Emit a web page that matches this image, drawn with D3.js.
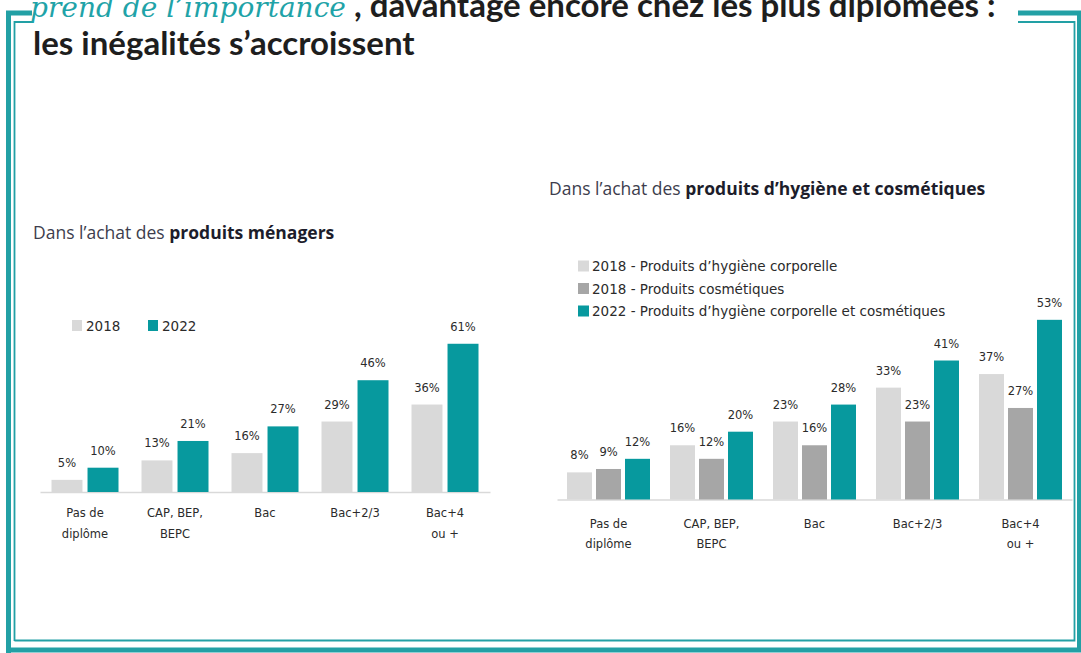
<!DOCTYPE html>
<html>
<head>
<meta charset="utf-8">
<script src="https://cdn.jsdelivr.net/npm/d3@7"></script>
<style>
  body { margin: 0; background: #fff; }
  svg { display: block; }
  .lbl { font-family: 'DejaVu Sans', sans-serif; font-size: 11.5px; fill: #2b2b2b; }
  .leg { font-family: 'DejaVu Sans', sans-serif; font-size: 13.5px; fill: #2b2b2b; }
  .sub { font-family: 'Open Sans', sans-serif; font-size: 17.5px; fill: #3d3d4d; }
  .sub .b { font-weight: 700; fill: #1d1d2b; }
  .title { font-family: Lato, sans-serif; font-weight: 700; font-size: 33px; fill: #1e1e1e; }
</style>
</head>
<body>
<div id="chart"></div>
<script>
// categories (line breaks as in the picture)
const categories = ['Pas de\ndiplôme', 'CAP, BEP,\nBEPC', 'Bac', 'Bac+2/3', 'Bac+4\nou +']

// produits ménagers
const menagers2018 = [5, 13, 16, 29, 36]
const menagers2022 = [10, 21, 27, 46, 61]

// hygiène et cosmétiques
const hygiene2018 = [8, 16, 23, 33, 37]
const cosmetiques2018 = [9, 12, 16, 23, 27]
const hygieneCosm2022 = [12, 20, 28, 41, 53]

const leftLegend = ['2018', '2022']
const rightLegend = [
  '2018 - Produits d\u2019hygiène corporelle',
  '2018 - Produits cosmétiques',
  '2022 - Produits d\u2019hygiène corporelle et cosmétiques'
]

const LIGHT = '#d9d9d9'
const MID = '#a6a6a6'
const TEAL = '#07999e'
const FRAME = '#22a0a5'

const W = 1081
const H = 653

var svg = d3.select('#chart').append('svg')
  .attr('width', W)
  .attr('height', H)

// frame: thick outer line + thin inner line, broken at the top by the title
const frame = svg.append('g').attr('fill', 'none')
frame.append('path')
  .attr('d', 'M8.5,653 V13 H32 M1018,13 H1079.5 V650 H8.5')
  .attr('stroke', FRAME).attr('stroke-width', 5)
frame.append('path')
  .attr('d', 'M14.5,641 V22 H33 M1018,22 H1074.5 V640.5 H14.5')
  .attr('stroke', FRAME).attr('stroke-width', 1.8)

// title (top line is cut off by the picture's edge)
const t1 = svg.append('text').attr('class', 'title').attr('x', 30).attr('y', 17)
t1.append('tspan')
  .attr('fill', '#1fa3a8')
  .attr('font-style', 'italic')
  .attr('font-weight', 400)
  .attr('font-size', 28)
  .attr('font-family', "'DejaVu Serif', serif")
  .text('prend de l\u2019importance')
t1.append('tspan').text(' , davantage encore chez les plus diplômées :')

svg.append('text').attr('class', 'title')
  .attr('x', 33).attr('y', 55)
  .text('les inégalités s\u2019accroissent')

// grouped bar chart helper
const drawChart = (opt) => {
  const g = svg.append('g')

  var x0 = d3.scaleBand()
    .domain(categories)
    .range(opt.xRange)
    .paddingInner(opt.padInner)
    .paddingOuter(opt.padInner / 2)

  var x1 = d3.scaleBand()
    .domain(opt.series.map((s, i) => i))
    .range([0, x0.bandwidth()])
    .paddingInner(opt.barGap)

  var y = d3.scaleLinear()
    .domain([0, opt.yMax])
    .range([opt.base, opt.base - opt.yMax * opt.pxPer])

  // x axis: just the baseline
  const ax = g.append('g')
    .attr('transform', 'translate(0,' + opt.base + ')')
    .call(d3.axisBottom(x0).tickSize(0).tickSizeOuter(0).tickFormat(''))
  ax.select('.domain').attr('stroke', '#d9d9d9').attr('stroke-width', 1.6)

  // category labels on one or two lines
  categories.forEach((c) => {
    const t = g.append('text')
      .attr('class', 'lbl')
      .attr('text-anchor', 'middle')
      .attr('x', x0(c) + x0.bandwidth() / 2)
      .attr('y', opt.base + opt.catDy)
    c.split('\n').forEach((line, i) => {
      t.append('tspan')
        .attr('x', x0(c) + x0.bandwidth() / 2)
        .attr('dy', i === 0 ? 0 : opt.catLine)
        .text(line)
    })
  })

  const rows = []
  opt.series.forEach((s, si) => {
    s.values.forEach((v, ci) => {
      rows.push({ si, cat: categories[ci], v, color: s.color })
    })
  })

  g.selectAll('.bar')
    .data(rows)
    .enter().append('rect')
    .attr('class', 'bar')
    .attr('x', (d) => x0(d.cat) + x1(d.si))
    .attr('y', (d) => y(d.v))
    .attr('width', x1.bandwidth())
    .attr('height', (d) => opt.base - y(d.v))
    .attr('fill', (d) => d.color)

  g.selectAll('.val')
    .data(rows)
    .enter().append('text')
    .attr('class', 'lbl')
    .attr('text-anchor', 'middle')
    .attr('x', (d) => x0(d.cat) + x1(d.si) + x1.bandwidth() / 2)
    .attr('y', (d) => y(d.v) - 13)
    .text((d) => d.v + '%')
}

// left chart
const sub1 = svg.append('text').attr('class', 'sub').attr('x', 33).attr('y', 239)
sub1.append('tspan').text('Dans l\u2019achat des ')
sub1.append('tspan').attr('class', 'b').text('produits ménagers')

drawChart({
  series: [
    { values: menagers2018, color: LIGHT },
    { values: menagers2022, color: TEAL }
  ],
  xRange: [40, 490],
  padInner: 23 / 90,
  barGap: 0.14,
  base: 492,
  yMax: 70,
  pxPer: 2.43,
  catDy: 25,
  catLine: 21
})

const legL = svg.append('g')
leftLegend.forEach((k, i) => {
  legL.append('rect')
    .attr('x', 72 + i * 76).attr('y', 320)
    .attr('width', 10).attr('height', 11)
    .attr('fill', i === 0 ? LIGHT : TEAL)
  legL.append('text').attr('class', 'leg')
    .attr('x', 86 + i * 76).attr('y', 331)
    .text(k)
})

// right chart
const sub2 = svg.append('text').attr('class', 'sub').attr('x', 549).attr('y', 195)
sub2.append('tspan').text('Dans l\u2019achat des ')
sub2.append('tspan').attr('class', 'b').text('produits d\u2019hygiène et cosmétiques')

drawChart({
  series: [
    { values: hygiene2018, color: LIGHT },
    { values: cosmetiques2018, color: MID },
    { values: hygieneCosm2022, color: TEAL }
  ],
  xRange: [557, 1072],
  padInner: 20 / 103,
  barGap: 0.138,
  base: 499.5,
  yMax: 60,
  pxPer: 3.39,
  catDy: 28,
  catLine: 20
})

const legR = svg.append('g')
const legColors = [LIGHT, MID, TEAL]
rightLegend.forEach((k, i) => {
  legR.append('rect')
    .attr('x', 578).attr('y', 260.5 + i * 22.5)
    .attr('width', 11).attr('height', 11)
    .attr('fill', legColors[i])
  legR.append('text').attr('class', 'leg')
    .attr('x', 592).attr('y', 271 + i * 22.5)
    .text(k)
})
</script>
</body>
</html>
